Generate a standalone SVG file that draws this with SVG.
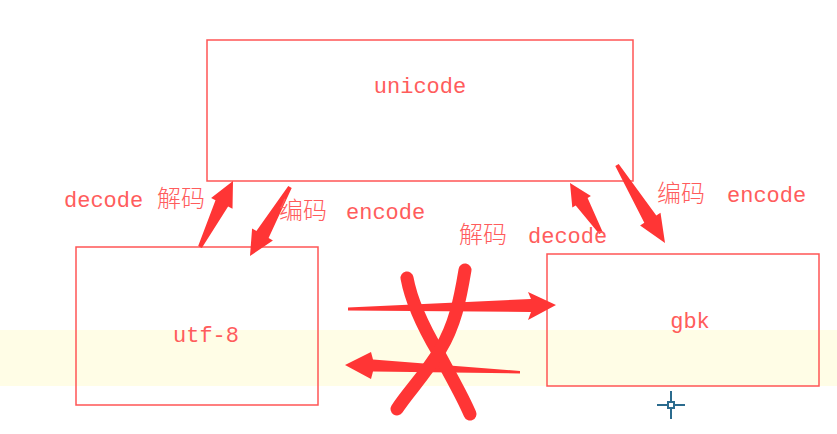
<svg xmlns="http://www.w3.org/2000/svg" width="837" height="434" viewBox="0 0 837 434">
<style>
.box{fill:none;stroke:#ff5555;stroke-width:1.5}
.t{font-family:"Liberation Mono","Noto Sans CJK SC",monospace;font-size:22px;fill:#ff5c5c}
.cjk{font-family:"Noto Sans CJK SC",sans-serif;font-size:24px;font-weight:300}
.arr{fill:#ff3535}
.x{fill:none;stroke:#ff3535;stroke-width:13;stroke-linecap:round;stroke-linejoin:round}
</style>
<rect x="0" y="0" width="837" height="434" fill="#ffffff"/>
<rect x="0" y="330" width="837" height="56" fill="#fffde6"/>
<g id="unicode"><rect class="box" x="207" y="40" width="426" height="141"/><text class="t" x="420" y="93" text-anchor="middle">unicode</text></g>
<g id="utf8"><rect class="box" x="76" y="247" width="242" height="158"/><text class="t" x="206" y="342" text-anchor="middle">utf-8</text></g>
<g id="gbk"><rect class="box" x="547" y="254" width="272" height="132"/><text class="t" x="690" y="328" text-anchor="middle">gbk</text></g>
<g id="connectors">
<polygon class="arr" points="201.8,247.9 228.1,206.5 232.5,208.8 233,181 211.1,198 215.5,200.3 198.2,246.1"/>
<polygon class="arr" points="291.7,188 268.6,237.9 272.9,240.4 250,256 252.1,228.4 256.4,230.9 288.3,186"/>
<polygon class="arr" points="602.7,231.9 587.6,198 590.9,195.9 570,183 572.3,207.5 575.7,205.4 599.3,234.1"/>
<polygon class="arr" points="618.7,164 656.3,215.4 660.5,212.8 665,243 640.1,225.4 644.3,222.8 615.3,166"/>
<polygon class="arr" points="348,310.5 531,312 528,320 556,305 528,292 531,299 348,307.5"/>
<polygon class="arr" points="520,373.5 373,371.5 371,379 345,365 371,352 373,359.5 520,371"/>
<path class="x" d="M407,278 C412,305 425,330 438,352 C450,375 462,395 470,414"/>
<path class="x" d="M465,270 C460,300 455,325 440,350 C425,375 408,392 397,409"/>
</g>
<g id="labels">
<text class="t" x="64" y="207">decode<tspan class="cjk" x="157">解码</tspan></text>
<text class="cjk t" x="279" y="219">编码<tspan class="t" x="346">encode</tspan></text>
<text class="cjk t" x="459" y="243">解码<tspan class="t" x="528">decode</tspan></text>
<text class="cjk t" x="657" y="202">编码<tspan class="t" x="727">encode</tspan></text>
</g>
<g id="cursor" stroke="#2b6b8e" stroke-width="2" fill="none">
<line x1="671" y1="391" x2="671" y2="419"/>
<line x1="657" y1="405" x2="685" y2="405"/>
<rect x="668" y="402" width="6" height="6" fill="#ffffff"/>
</g>
</svg>
